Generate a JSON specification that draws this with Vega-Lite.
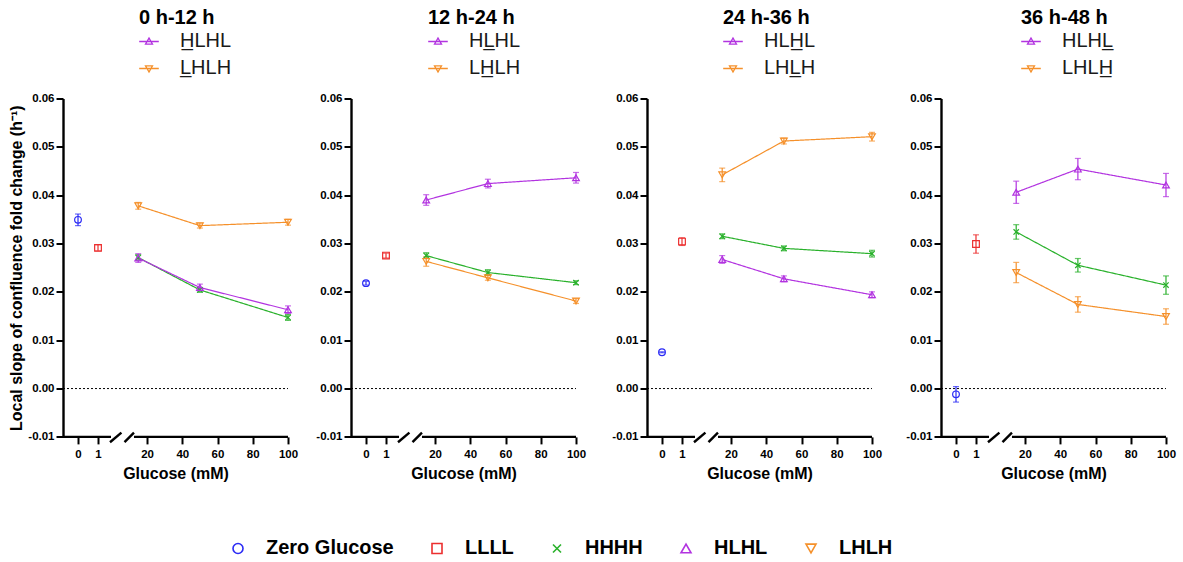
{
  "$schema": "https://vega.github.io/schema/vega-lite/v6.json",
  "background": "white",
  "padding": {"left": 8, "top": 8.5, "right": 5, "bottom": 82},
  "datasets": {
    "slopes": [
      {"period": "0 h-12 h", "group": "Zero Glucose", "glucose": 0, "slope": 0.0349, "sem": 0.0012},
      {"period": "0 h-12 h", "group": "LLLL", "glucose": 1, "slope": 0.0291, "sem": 0.0006},
      {"period": "0 h-12 h", "group": "HHHH", "glucose": 15, "slope": 0.0271, "sem": 0.0006},
      {"period": "0 h-12 h", "group": "HHHH", "glucose": 50, "slope": 0.0204, "sem": 0.0005},
      {"period": "0 h-12 h", "group": "HHHH", "glucose": 100, "slope": 0.0147, "sem": 0.0006},
      {"period": "0 h-12 h", "group": "HLHL", "glucose": 15, "slope": 0.0270, "sem": 0.0009},
      {"period": "0 h-12 h", "group": "HLHL", "glucose": 50, "slope": 0.0209, "sem": 0.0007},
      {"period": "0 h-12 h", "group": "HLHL", "glucose": 100, "slope": 0.0163, "sem": 0.0008},
      {"period": "0 h-12 h", "group": "LHLH", "glucose": 15, "slope": 0.0378, "sem": 0.0007},
      {"period": "0 h-12 h", "group": "LHLH", "glucose": 50, "slope": 0.0337, "sem": 0.0005},
      {"period": "0 h-12 h", "group": "LHLH", "glucose": 100, "slope": 0.0344, "sem": 0.0006},
      {"period": "12 h-24 h", "group": "Zero Glucose", "glucose": 0, "slope": 0.0218, "sem": 0.0004},
      {"period": "12 h-24 h", "group": "LLLL", "glucose": 1, "slope": 0.0275, "sem": 0.0005},
      {"period": "12 h-24 h", "group": "HHHH", "glucose": 15, "slope": 0.0275, "sem": 0.0006},
      {"period": "12 h-24 h", "group": "HHHH", "glucose": 50, "slope": 0.0240, "sem": 0.0006},
      {"period": "12 h-24 h", "group": "HHHH", "glucose": 100, "slope": 0.0219, "sem": 0.0004},
      {"period": "12 h-24 h", "group": "HLHL", "glucose": 15, "slope": 0.0390, "sem": 0.0011},
      {"period": "12 h-24 h", "group": "HLHL", "glucose": 50, "slope": 0.0424, "sem": 0.0009},
      {"period": "12 h-24 h", "group": "HLHL", "glucose": 100, "slope": 0.0436, "sem": 0.0011},
      {"period": "12 h-24 h", "group": "LHLH", "glucose": 15, "slope": 0.0263, "sem": 0.0010},
      {"period": "12 h-24 h", "group": "LHLH", "glucose": 50, "slope": 0.0229, "sem": 0.0005},
      {"period": "12 h-24 h", "group": "LHLH", "glucose": 100, "slope": 0.0181, "sem": 0.0005},
      {"period": "24 h-36 h", "group": "Zero Glucose", "glucose": 0, "slope": 0.0075, "sem": 0.0001},
      {"period": "24 h-36 h", "group": "LLLL", "glucose": 1, "slope": 0.0304, "sem": 0.0008},
      {"period": "24 h-36 h", "group": "HHHH", "glucose": 15, "slope": 0.0315, "sem": 0.0005},
      {"period": "24 h-36 h", "group": "HHHH", "glucose": 50, "slope": 0.0290, "sem": 0.0005},
      {"period": "24 h-36 h", "group": "HHHH", "glucose": 100, "slope": 0.0279, "sem": 0.0007},
      {"period": "24 h-36 h", "group": "HLHL", "glucose": 15, "slope": 0.0267, "sem": 0.0008},
      {"period": "24 h-36 h", "group": "HLHL", "glucose": 50, "slope": 0.0227, "sem": 0.0006},
      {"period": "24 h-36 h", "group": "HLHL", "glucose": 100, "slope": 0.0194, "sem": 0.0006},
      {"period": "24 h-36 h", "group": "LHLH", "glucose": 15, "slope": 0.0442, "sem": 0.0014},
      {"period": "24 h-36 h", "group": "LHLH", "glucose": 50, "slope": 0.0512, "sem": 0.0006},
      {"period": "24 h-36 h", "group": "LHLH", "glucose": 100, "slope": 0.0521, "sem": 0.0009},
      {"period": "36 h-48 h", "group": "Zero Glucose", "glucose": 0, "slope": -0.0012, "sem": 0.0016},
      {"period": "36 h-48 h", "group": "LLLL", "glucose": 1, "slope": 0.0299, "sem": 0.0019},
      {"period": "36 h-48 h", "group": "HHHH", "glucose": 15, "slope": 0.0324, "sem": 0.0015},
      {"period": "36 h-48 h", "group": "HHHH", "glucose": 50, "slope": 0.0255, "sem": 0.0014},
      {"period": "36 h-48 h", "group": "HHHH", "glucose": 100, "slope": 0.0214, "sem": 0.0019},
      {"period": "36 h-48 h", "group": "HLHL", "glucose": 15, "slope": 0.0406, "sem": 0.0023},
      {"period": "36 h-48 h", "group": "HLHL", "glucose": 50, "slope": 0.0454, "sem": 0.0022},
      {"period": "36 h-48 h", "group": "HLHL", "glucose": 100, "slope": 0.0421, "sem": 0.0024},
      {"period": "36 h-48 h", "group": "LHLH", "glucose": 15, "slope": 0.0240, "sem": 0.0021},
      {"period": "36 h-48 h", "group": "LHLH", "glucose": 50, "slope": 0.0174, "sem": 0.0016},
      {"period": "36 h-48 h", "group": "LHLH", "glucose": 100, "slope": 0.0149, "sem": 0.0016}
    ],
    "frame": [
      {"part": "zero", "glucose": -0.75, "glucose2": 100, "slope": 0, "slope2": 0},
      {"part": "axis", "glucose": -0.75, "glucose2": 1.65, "slope": -0.01, "slope2": -0.01},
      {"part": "axis", "glucose": 12.6, "glucose2": 100, "slope": -0.01, "slope2": -0.01},
      {"part": "break", "glucose": 1.6, "glucose2": 6.1, "slope": -0.0111, "slope2": -0.0091},
      {"part": "break", "glucose": 7.7, "glucose2": 12.6, "slope": -0.0111, "slope2": -0.0091}
    ]
  },
  "hconcat": [
    {
      "width": 225,
      "height": 338.4,
      "encoding": {
        "x": {"field": "glucose", "type": "quantitative", "scale": {"domain": [-0.75, 1.75, 12.5, 100], "range": [0, 50, 70.8, 225], "nice": false, "zero": false}, "axis": {"values": [0, 1, 20, 40, 60, 80, 100], "title": "Glucose (mM)", "titleX": 112.5}},
        "y": {"field": "slope", "type": "quantitative", "scale": {"domain": [-0.01, 0.06], "nice": false, "zero": false}, "axis": {"values": [-0.01, 0, 0.01, 0.02, 0.03, 0.04, 0.05, 0.06], "labelExpr": "datum.value < 0 ? '-' + format(-datum.value, '.2f') : format(datum.value, '.2f')", "title": "Local slope of confluence fold change (h\u207b\u00b9)"}}
      },
      "layer": [
        {"data": {"name": "frame"}, "transform": [{"filter": "datum.part === 'zero'"}], "mark": {"type": "rule", "color": "black", "strokeWidth": 1, "strokeDash": [2, 2]}, "encoding": {"x2": {"field": "glucose2"}, "y2": {"field": "slope2"}}},
        {"data": {"name": "frame"}, "transform": [{"filter": "datum.part !== 'zero'"}], "mark": {"type": "rule", "color": "black", "strokeWidth": 2.4}, "encoding": {"x2": {"field": "glucose2"}, "y2": {"field": "slope2"}}},
        {"data": {"name": "slopes"}, "transform": [{"filter": "datum.period === '0 h-12 h'"}], "mark": {"type": "errorbar", "ticks": true, "size": 6, "thickness": 1.2}, "encoding": {"yError": {"field": "sem"}, "color": {"field": "group", "type": "nominal", "scale": {"domain": ["Zero Glucose", "LLLL", "HHHH", "HLHL", "LHLH"], "range": ["#2b2bf5", "#ec2f2f", "#29b12b", "#b233e0", "#f5902a"]}, "legend": null}}},
        {"data": {"name": "slopes"}, "transform": [{"filter": "datum.period === '0 h-12 h' && datum.glucose >= 15"}], "mark": {"type": "line", "strokeWidth": 1.2}, "encoding": {
          "color": {"field": "group", "type": "nominal", "legend": null},
          "strokeDash": {"field": "group", "type": "nominal", "scale": {"domain": ["HLHL", "LHLH", "HHHH"], "range": [[1, 0], [1, 0], [1, 0]]}, "legend": {"values": ["HLHL", "LHLH"], "title": "0 h-12 h", "orient": "none", "legendX": 76, "legendY": -90, "direction": "vertical", "titleFontSize": 20, "titleFontWeight": "bold", "titleColor": "black", "titlePadding": 3, "titleAnchor": "start", "labelFontSize": 20, "labelFontWeight": "normal", "labelColor": "#1a1a1a", "labelOffset": 21, "rowPadding": 7, "symbolSize": 49, "symbolStrokeWidth": 1.3,
            "labelExpr": "datum.label === 'HLHL' ? 'H\u0332LHL' : 'L\u0332HLH'",
            "encode": {
              "symbols": {"update": {"shape": {"signal": "datum.value === 'HLHL' ? 'M-2.8,0H2.8M0,-1L1,0.75L-1,0.75Z' : 'M-2.8,0H2.8M0,1L1,-0.75L-1,-0.75Z'"}, "stroke": {"signal": "datum.value === 'HLHL' ? '#b233e0' : '#f5902a'"}, "fill": {"value": "transparent"}, "opacity": {"value": 1}}},
              "labels": {"update": {"text": {"signal": "datum.label === 'HLHL' ? 'H\u0332LHL' : 'L\u0332HLH'"}}}
            }}}
        }},
        {"data": {"name": "slopes"}, "transform": [{"filter": "datum.period === '0 h-12 h'"}], "mark": {"type": "point", "filled": false, "size": 45, "strokeWidth": 1.2, "opacity": 1}, "encoding": {
          "stroke": {"field": "group", "type": "nominal", "scale": {"domain": ["Zero Glucose", "LLLL", "HHHH", "HLHL", "LHLH"], "range": ["#2b2bf5", "#ec2f2f", "#29b12b", "#b233e0", "#f5902a"]}, "legend": {"title": null, "orient": "none", "legendX": 165, "legendY": 440, "direction": "horizontal", "labelFontSize": 20, "labelFontWeight": "bold", "labelColor": "black", "symbolSize": 100, "symbolStrokeWidth": 1.6, "labelOffset": 18, "columnPadding": 33,
            "labelExpr": "datum.label === 'Zero Glucose' ? 'Zero Glucose\u00a0\u00a0\u00a0\u00a0\u00a0\u00a0' : datum.label",
            "encode": {
              "symbols": {"update": {"shape": {"signal": "datum.value === 'Zero Glucose' ? 'M-2.8,0H2.8M1,0A1,1,0,1,1,-1,0A1,1,0,1,1,1,0Z' : datum.value === 'LLLL' ? 'M-2.8,0H2.8M-0.9,-0.9H0.9V0.9H-0.9Z' : datum.value === 'HHHH' ? 'M-2.8,0H2.8M-0.9,-0.9L0.9,0.9M-0.9,0.9L0.9,-0.9' : datum.value === 'HLHL' ? 'M-2.8,0H2.8M0,-1.05L1.05,0.8L-1.05,0.8Z' : 'M-2.8,0H2.8M0,1.05L1.05,-0.8L-1.05,-0.8Z'"}, "stroke": {"signal": "datum.value === 'Zero Glucose' ? '#1f1ff5' : datum.value === 'LLLL' ? '#f02525' : datum.value === 'HHHH' ? '#25b525' : datum.value === 'HLHL' ? '#b025e0' : '#f5902a'"}, "fill": {"value": "transparent"}, "opacity": {"value": 1}}},
              "labels": {"update": {"text": {"signal": "datum.label === 'Zero Glucose' ? 'Zero Glucose\u00a0\u00a0\u00a0\u00a0\u00a0\u00a0' : datum.label"}}}
            }}},
          "shape": {"field": "group", "type": "nominal", "scale": {"domain": ["Zero Glucose", "LLLL", "HHHH", "HLHL", "LHLH"], "range": ["circle", "square", "M-0.8,-0.8L0.8,0.8M-0.8,0.8L0.8,-0.8", "triangle-up", "triangle-down"]}, "legend": {"title": null}}
        }}
      ]
    },
    {
      "width": 233,
      "height": 338.4,
      "encoding": {
        "x": {"field": "glucose", "type": "quantitative", "scale": {"domain": [-0.75, 1.75, 12.5, 100], "range": [0, 50, 70.8, 225], "nice": false, "zero": false}, "axis": {"values": [0, 1, 20, 40, 60, 80, 100], "title": "Glucose (mM)", "titleX": 112.5}},
        "y": {"field": "slope", "type": "quantitative", "scale": {"domain": [-0.01, 0.06], "nice": false, "zero": false}, "axis": {"values": [-0.01, 0, 0.01, 0.02, 0.03, 0.04, 0.05, 0.06], "labelExpr": "datum.value < 0 ? '-' + format(-datum.value, '.2f') : format(datum.value, '.2f')", "title": null}}
      },
      "layer": [
        {"data": {"name": "frame"}, "transform": [{"filter": "datum.part === 'zero'"}], "mark": {"type": "rule", "color": "black", "strokeWidth": 1, "strokeDash": [2, 2]}, "encoding": {"x2": {"field": "glucose2"}, "y2": {"field": "slope2"}}},
        {"data": {"name": "frame"}, "transform": [{"filter": "datum.part !== 'zero'"}], "mark": {"type": "rule", "color": "black", "strokeWidth": 2.4}, "encoding": {"x2": {"field": "glucose2"}, "y2": {"field": "slope2"}}},
        {"data": {"name": "slopes"}, "transform": [{"filter": "datum.period === '12 h-24 h'"}], "mark": {"type": "errorbar", "ticks": true, "size": 6, "thickness": 1.2}, "encoding": {"yError": {"field": "sem"}, "color": {"field": "group", "type": "nominal", "scale": {"domain": ["Zero Glucose", "LLLL", "HHHH", "HLHL", "LHLH"], "range": ["#2b2bf5", "#ec2f2f", "#29b12b", "#b233e0", "#f5902a"]}, "legend": null}}},
        {"data": {"name": "slopes"}, "transform": [{"filter": "datum.period === '12 h-24 h' && datum.glucose >= 15"}], "mark": {"type": "line", "strokeWidth": 1.2}, "encoding": {
          "color": {"field": "group", "type": "nominal", "legend": null},
          "strokeDash": {"field": "group", "type": "nominal", "scale": {"domain": ["HLHL", "LHLH", "HHHH"], "range": [[1, 0], [1, 0], [1, 0]]}, "legend": {"values": ["HLHL", "LHLH"], "title": "12 h-24 h", "orient": "none", "legendX": 77, "legendY": -90, "direction": "vertical", "titleFontSize": 20, "titleFontWeight": "bold", "titleColor": "black", "titlePadding": 3, "titleAnchor": "start", "labelFontSize": 20, "labelFontWeight": "normal", "labelColor": "#1a1a1a", "labelOffset": 21, "rowPadding": 7, "symbolSize": 49, "symbolStrokeWidth": 1.3,
            "labelExpr": "datum.label === 'HLHL' ? 'HL\u0332HL' : 'LH\u0332LH'",
            "encode": {
              "symbols": {"update": {"shape": {"signal": "datum.value === 'HLHL' ? 'M-2.8,0H2.8M0,-1L1,0.75L-1,0.75Z' : 'M-2.8,0H2.8M0,1L1,-0.75L-1,-0.75Z'"}, "stroke": {"signal": "datum.value === 'HLHL' ? '#b233e0' : '#f5902a'"}, "fill": {"value": "transparent"}, "opacity": {"value": 1}}},
              "labels": {"update": {"text": {"signal": "datum.label === 'HLHL' ? 'HL\u0332HL' : 'LH\u0332LH'"}}}
            }}}
        }},
        {"data": {"name": "slopes"}, "transform": [{"filter": "datum.period === '12 h-24 h'"}], "mark": {"type": "point", "filled": false, "size": 45, "strokeWidth": 1.2, "opacity": 1}, "encoding": {
          "stroke": {"field": "group", "type": "nominal", "scale": {"domain": ["Zero Glucose", "LLLL", "HHHH", "HLHL", "LHLH"], "range": ["#2b2bf5", "#ec2f2f", "#29b12b", "#b233e0", "#f5902a"]}, "legend": null},
          "shape": {"field": "group", "type": "nominal", "scale": {"domain": ["Zero Glucose", "LLLL", "HHHH", "HLHL", "LHLH"], "range": ["circle", "square", "M-0.8,-0.8L0.8,0.8M-0.8,0.8L0.8,-0.8", "triangle-up", "triangle-down"]}, "legend": null}
        }}
      ]
    },
    {
      "width": 231,
      "height": 338.4,
      "encoding": {
        "x": {"field": "glucose", "type": "quantitative", "scale": {"domain": [-0.75, 1.75, 12.5, 100], "range": [0, 50, 70.8, 225], "nice": false, "zero": false}, "axis": {"values": [0, 1, 20, 40, 60, 80, 100], "title": "Glucose (mM)", "titleX": 112.5}},
        "y": {"field": "slope", "type": "quantitative", "scale": {"domain": [-0.01, 0.06], "nice": false, "zero": false}, "axis": {"values": [-0.01, 0, 0.01, 0.02, 0.03, 0.04, 0.05, 0.06], "labelExpr": "datum.value < 0 ? '-' + format(-datum.value, '.2f') : format(datum.value, '.2f')", "title": null}}
      },
      "layer": [
        {"data": {"name": "frame"}, "transform": [{"filter": "datum.part === 'zero'"}], "mark": {"type": "rule", "color": "black", "strokeWidth": 1, "strokeDash": [2, 2]}, "encoding": {"x2": {"field": "glucose2"}, "y2": {"field": "slope2"}}},
        {"data": {"name": "frame"}, "transform": [{"filter": "datum.part !== 'zero'"}], "mark": {"type": "rule", "color": "black", "strokeWidth": 2.4}, "encoding": {"x2": {"field": "glucose2"}, "y2": {"field": "slope2"}}},
        {"data": {"name": "slopes"}, "transform": [{"filter": "datum.period === '24 h-36 h'"}], "mark": {"type": "errorbar", "ticks": true, "size": 6, "thickness": 1.2}, "encoding": {"yError": {"field": "sem"}, "color": {"field": "group", "type": "nominal", "scale": {"domain": ["Zero Glucose", "LLLL", "HHHH", "HLHL", "LHLH"], "range": ["#2b2bf5", "#ec2f2f", "#29b12b", "#b233e0", "#f5902a"]}, "legend": null}}},
        {"data": {"name": "slopes"}, "transform": [{"filter": "datum.period === '24 h-36 h' && datum.glucose >= 15"}], "mark": {"type": "line", "strokeWidth": 1.2}, "encoding": {
          "color": {"field": "group", "type": "nominal", "legend": null},
          "strokeDash": {"field": "group", "type": "nominal", "scale": {"domain": ["HLHL", "LHLH", "HHHH"], "range": [[1, 0], [1, 0], [1, 0]]}, "legend": {"values": ["HLHL", "LHLH"], "title": "24 h-36 h", "orient": "none", "legendX": 76, "legendY": -90, "direction": "vertical", "titleFontSize": 20, "titleFontWeight": "bold", "titleColor": "black", "titlePadding": 3, "titleAnchor": "start", "labelFontSize": 20, "labelFontWeight": "normal", "labelColor": "#1a1a1a", "labelOffset": 21, "rowPadding": 7, "symbolSize": 49, "symbolStrokeWidth": 1.3,
            "labelExpr": "datum.label === 'HLHL' ? 'HLH\u0332L' : 'LHL\u0332H'",
            "encode": {
              "symbols": {"update": {"shape": {"signal": "datum.value === 'HLHL' ? 'M-2.8,0H2.8M0,-1L1,0.75L-1,0.75Z' : 'M-2.8,0H2.8M0,1L1,-0.75L-1,-0.75Z'"}, "stroke": {"signal": "datum.value === 'HLHL' ? '#b233e0' : '#f5902a'"}, "fill": {"value": "transparent"}, "opacity": {"value": 1}}},
              "labels": {"update": {"text": {"signal": "datum.label === 'HLHL' ? 'HLH\u0332L' : 'LHL\u0332H'"}}}
            }}}
        }},
        {"data": {"name": "slopes"}, "transform": [{"filter": "datum.period === '24 h-36 h'"}], "mark": {"type": "point", "filled": false, "size": 45, "strokeWidth": 1.2, "opacity": 1}, "encoding": {
          "stroke": {"field": "group", "type": "nominal", "scale": {"domain": ["Zero Glucose", "LLLL", "HHHH", "HLHL", "LHLH"], "range": ["#2b2bf5", "#ec2f2f", "#29b12b", "#b233e0", "#f5902a"]}, "legend": null},
          "shape": {"field": "group", "type": "nominal", "scale": {"domain": ["Zero Glucose", "LLLL", "HHHH", "HLHL", "LHLH"], "range": ["circle", "square", "M-0.8,-0.8L0.8,0.8M-0.8,0.8L0.8,-0.8", "triangle-up", "triangle-down"]}, "legend": null}
        }}
      ]
    },
    {
      "width": 225,
      "height": 338.4,
      "encoding": {
        "x": {"field": "glucose", "type": "quantitative", "scale": {"domain": [-0.75, 1.75, 12.5, 100], "range": [0, 50, 70.8, 225], "nice": false, "zero": false}, "axis": {"values": [0, 1, 20, 40, 60, 80, 100], "title": "Glucose (mM)", "titleX": 112.5}},
        "y": {"field": "slope", "type": "quantitative", "scale": {"domain": [-0.01, 0.06], "nice": false, "zero": false}, "axis": {"values": [-0.01, 0, 0.01, 0.02, 0.03, 0.04, 0.05, 0.06], "labelExpr": "datum.value < 0 ? '-' + format(-datum.value, '.2f') : format(datum.value, '.2f')", "title": null}}
      },
      "layer": [
        {"data": {"name": "frame"}, "transform": [{"filter": "datum.part === 'zero'"}], "mark": {"type": "rule", "color": "black", "strokeWidth": 1, "strokeDash": [2, 2]}, "encoding": {"x2": {"field": "glucose2"}, "y2": {"field": "slope2"}}},
        {"data": {"name": "frame"}, "transform": [{"filter": "datum.part !== 'zero'"}], "mark": {"type": "rule", "color": "black", "strokeWidth": 2.4}, "encoding": {"x2": {"field": "glucose2"}, "y2": {"field": "slope2"}}},
        {"data": {"name": "slopes"}, "transform": [{"filter": "datum.period === '36 h-48 h'"}], "mark": {"type": "errorbar", "ticks": true, "size": 6, "thickness": 1.2}, "encoding": {"yError": {"field": "sem"}, "color": {"field": "group", "type": "nominal", "scale": {"domain": ["Zero Glucose", "LLLL", "HHHH", "HLHL", "LHLH"], "range": ["#2b2bf5", "#ec2f2f", "#29b12b", "#b233e0", "#f5902a"]}, "legend": null}}},
        {"data": {"name": "slopes"}, "transform": [{"filter": "datum.period === '36 h-48 h' && datum.glucose >= 15"}], "mark": {"type": "line", "strokeWidth": 1.2}, "encoding": {
          "color": {"field": "group", "type": "nominal", "legend": null},
          "strokeDash": {"field": "group", "type": "nominal", "scale": {"domain": ["HLHL", "LHLH", "HHHH"], "range": [[1, 0], [1, 0], [1, 0]]}, "legend": {"values": ["HLHL", "LHLH"], "title": "36 h-48 h", "orient": "none", "legendX": 80, "legendY": -90, "direction": "vertical", "titleFontSize": 20, "titleFontWeight": "bold", "titleColor": "black", "titlePadding": 3, "titleAnchor": "start", "labelFontSize": 20, "labelFontWeight": "normal", "labelColor": "#1a1a1a", "labelOffset": 21, "rowPadding": 7, "symbolSize": 49, "symbolStrokeWidth": 1.3,
            "labelExpr": "datum.label === 'HLHL' ? 'HLHL\u0332' : 'LHLH\u0332'",
            "encode": {
              "symbols": {"update": {"shape": {"signal": "datum.value === 'HLHL' ? 'M-2.8,0H2.8M0,-1L1,0.75L-1,0.75Z' : 'M-2.8,0H2.8M0,1L1,-0.75L-1,-0.75Z'"}, "stroke": {"signal": "datum.value === 'HLHL' ? '#b233e0' : '#f5902a'"}, "fill": {"value": "transparent"}, "opacity": {"value": 1}}},
              "labels": {"update": {"text": {"signal": "datum.label === 'HLHL' ? 'HLHL\u0332' : 'LHLH\u0332'"}}}
            }}}
        }},
        {"data": {"name": "slopes"}, "transform": [{"filter": "datum.period === '36 h-48 h'"}], "mark": {"type": "point", "filled": false, "size": 45, "strokeWidth": 1.2, "opacity": 1}, "encoding": {
          "stroke": {"field": "group", "type": "nominal", "scale": {"domain": ["Zero Glucose", "LLLL", "HHHH", "HLHL", "LHLH"], "range": ["#2b2bf5", "#ec2f2f", "#29b12b", "#b233e0", "#f5902a"]}, "legend": null},
          "shape": {"field": "group", "type": "nominal", "scale": {"domain": ["Zero Glucose", "LLLL", "HHHH", "HLHL", "LHLH"], "range": ["circle", "square", "M-0.8,-0.8L0.8,0.8M-0.8,0.8L0.8,-0.8", "triangle-up", "triangle-down"]}, "legend": null}
        }}
      ]
    }
  ],
  "spacing": 63,
  "bounds": "flush",
  "resolve": {"legend": {"strokeDash": "independent", "stroke": "independent", "shape": "independent"}, "scale": {"strokeDash": "independent"}},
  "config": {
    "font": "Liberation Sans",
    "view": {"stroke": null},
    "axis": {"grid": false, "domainColor": "black", "domainWidth": 2.4, "tickColor": "black", "tickWidth": 2, "labelFont": "Liberation Sans", "labelFontWeight": "bold", "labelFontSize": 11.5, "labelColor": "black", "titleFont": "Liberation Sans", "titleFontWeight": "bold", "titleFontSize": 16, "titleColor": "black"},
    "axisX": {"domain": false, "tickSize": 7, "labelPadding": 5, "titlePadding": 5, "labelFlush": false, "labelOverlap": false},
    "axisY": {"tickSize": 7, "labelPadding": 2, "titlePadding": 3},
    "legend": {"labelFont": "Liberation Sans", "titleFont": "Liberation Sans", "labelLimit": 300, "titleLimit": 300}
  }
}
